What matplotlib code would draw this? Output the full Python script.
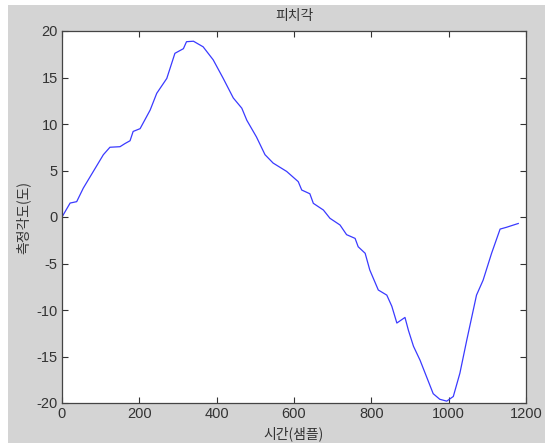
import matplotlib
matplotlib.use("Agg")
import matplotlib.pyplot as plt
from matplotlib.patches import Rectangle

plt.rcParams['font.family'] = ['Liberation Sans', 'Noto Sans CJK KR', 'DejaVu Sans']
plt.rcParams['axes.unicode_minus'] = False

sample = [0, 21, 38, 55, 81, 107, 124, 150, 163, 176, 184, 202, 228, 245, 271,
          292, 314, 322, 340, 365, 391, 417, 443, 465, 478, 503, 525, 546, 581,
          611, 620, 641, 650, 676, 693, 719, 736, 758, 766, 784, 796, 818, 840,
          853, 866, 887, 896, 909, 926, 943, 960, 977, 995, 1012, 1029, 1047,
          1072, 1089, 1111, 1133, 1150, 1176, 1180]
angle = [0.0, 1.5, 1.65, 3.1, 4.9, 6.7, 7.5, 7.56, 7.9, 8.2, 9.2, 9.5, 11.5,
         13.3, 14.9, 17.6, 18.1, 18.85, 18.9, 18.3, 16.9, 14.9, 12.8, 11.7,
         10.4, 8.6, 6.7, 5.8, 4.9, 3.8, 2.9, 2.5, 1.47, 0.75, -0.14, -0.86,
         -1.9, -2.3, -3.2, -3.9, -5.7, -7.85, -8.4, -9.6, -11.4, -10.8, -12.2,
         -13.9, -15.4, -17.2, -19.0, -19.6, -19.8, -19.3, -16.8, -13.2, -8.4,
         -6.8, -3.9, -1.3, -1.1, -0.75, -0.7]
x_ticks = [0, 200, 400, 600, 800, 1000, 1200]
y_ticks = [-20, -15, -10, -5, 0, 5, 10, 15, 20]

fig = plt.figure(figsize=(5.47, 4.45), dpi=100, facecolor='white')
fig.patches.append(Rectangle((8 / 547, 2 / 445), 537 / 547, 438 / 445,
                             transform=fig.transFigure, facecolor='#d4d4d4',
                             edgecolor='none', zorder=-1))

ax = fig.add_axes([62 / 547, 1 - 403 / 445, 464 / 547, 372 / 445])
ax.plot(sample, angle, color='#3a3aff', lw=0.9)
ax.set_xlim(0, 1200)
ax.set_ylim(-20, 20)
ax.set_xticks(x_ticks)
ax.set_yticks(y_ticks)
ax.tick_params(direction='in', top=True, right=True, length=4, width=0.8,
               colors='#333333', labelsize=10.5, pad=3)
for s in ax.spines.values():
    s.set_color('#444444')
    s.set_linewidth(0.9)

kfont = ['Noto Sans CJK KR', 'DejaVu Sans']
ax.set_title('피치각', family=kfont, fontsize=10, color='#333333', pad=8)
ax.set_xlabel('시간(샘플)', family=kfont, fontsize=10, color='#333333', labelpad=4)
ax.set_ylabel('측정각도(도)', family=kfont, fontsize=10, color='#333333', labelpad=4)

fig.savefig('out.png', dpi=100, facecolor=fig.get_facecolor())
